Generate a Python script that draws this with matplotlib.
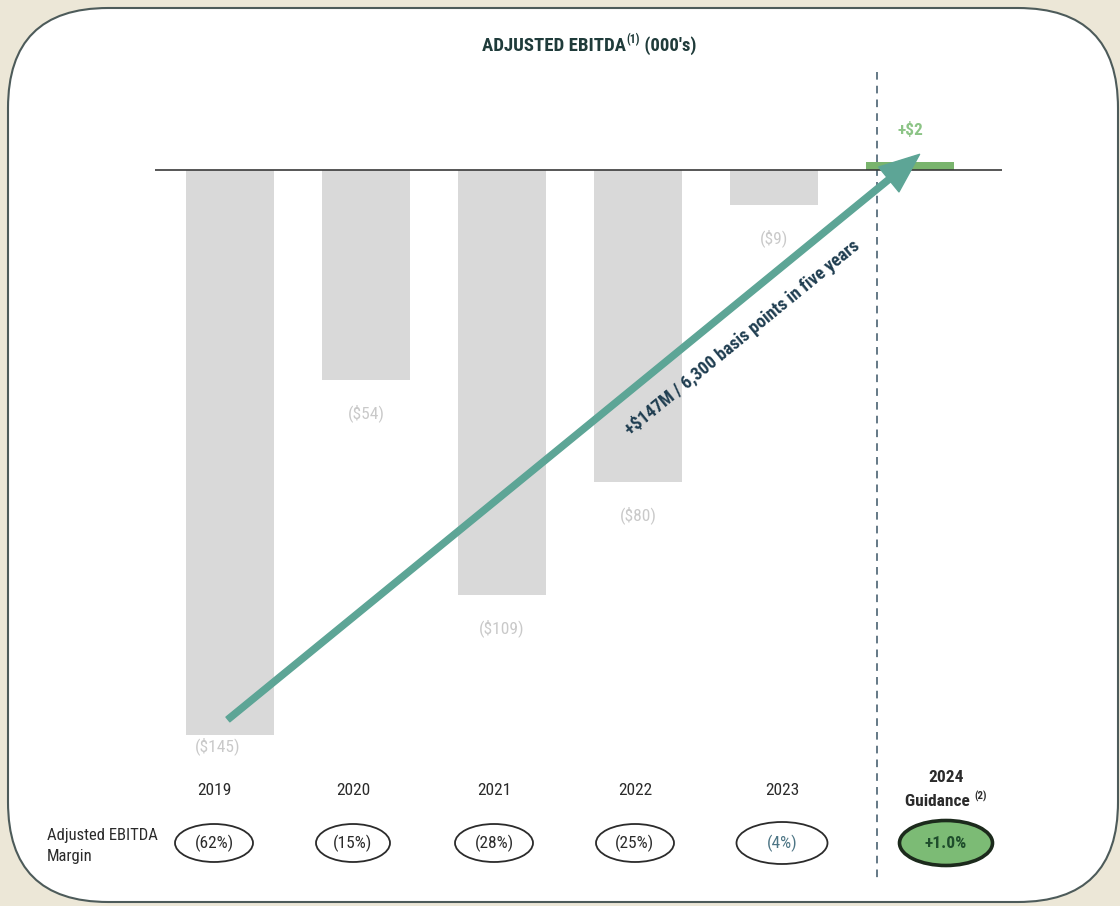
import math
import matplotlib.pyplot as plt
from matplotlib.patches import FancyBboxPatch, Ellipse

years = ['2019', '2020', '2021', '2022', '2023', '2024']
ebitda = [-145, -54, -109, -80, -9, 2]
ebitda_labels = ['($145)', '($54)', '($109)', '($80)', '($9)', '+$2']
margins = ['(62%)', '(15%)', '(28%)', '(25%)', '(4%)', '+1.0%']
margin_title = 'Adjusted EBITDA\nMargin'
trend_text = '+$147M / 6,300 basis points in five years'

plt.rcParams['font.family'] = ['Roboto Condensed', 'DejaVu Sans']

W, H = 1120, 906
fig = plt.figure(figsize=(W / 100, H / 100), dpi=100)
fig.patch.set_facecolor('#ece7d7')

# pixel-space layer for the panel, separators and the margin row
bg = fig.add_axes([0, 0, 1, 1])
bg.set_xlim(0, W)
bg.set_ylim(H, 0)
bg.axis('off')

panel = FancyBboxPatch((8, 8), 1110, 894, boxstyle='round,pad=0,rounding_size=100',
                       facecolor='white', edgecolor='#4d5b5a', lw=1.5)
bg.add_patch(panel)
bg.plot([877, 877], [72, 880], ls=(0, (5, 4)), color='#3b5566', lw=1.1)

renderer = fig.canvas.get_renderer()


def sup_text(ax, xc, y, parts, size, **kw):
    # parts: (text, is_superscript); the run is centred on xc
    items = []
    for s, sup in parts:
        t = ax.text(0, y - (size * 0.55 if sup else 0), s, ha='left', va='baseline',
                    fontsize=size * (0.62 if sup else 1), **kw)
        items.append(t)
    widths = [t.get_window_extent(renderer).width for t in items]
    x = xc - sum(widths) / 2
    for t, w in zip(items, widths):
        t.set_x(x)
        x += w


sup_text(bg, 589, 51, [('ADJUSTED EBITDA', False), ('(1)', True), (" (000's)", False)],
         13.5, fontweight='bold', color='#1f3b3a')

# bars
ax = fig.add_axes([155 / W, 1 - 793.5 / H, 847 / W, (793.5 - 53) / H])
ax.patch.set_alpha(0)
ax.set_xlim(-0.551, 5.676)
ax.set_ylim(-160, 30)
ax.axis('off')

x = list(range(len(years)))
colors = ['#d9d9d9'] * 5 + ['#79b46d']
ax.bar(x, ebitda, width=0.647, color=colors, zorder=2)
ax.axhline(0, color='#3a3a3a', lw=1.2, zorder=3)

label_gap = [11, 33, 33, 33, 33, 32]
label_dx = [-12, 0, 0, 0, 0, 0]
for i, v in enumerate(ebitda):
    sign = -1 if v < 0 else 1
    ax.annotate(ebitda_labels[i], (i, v), xytext=(label_dx[i] * 0.72, sign * label_gap[i] * 0.72),
                textcoords='offset points', ha='center', va='center', fontsize=12.5,
                color='#c9c9c9' if v < 0 else '#8cc486',
                fontweight='bold' if v > 0 else 'normal')

start = (-0.015, ebitda[0] + 4)
end = (x[-1] + 0.07, ebitda[-1] + 2)
ax.annotate('', xy=end, xytext=start,
            arrowprops=dict(arrowstyle='simple,head_length=1.3,head_width=1.05,tail_width=0.2',
                            mutation_scale=22, color='#5da596', shrinkA=0, shrinkB=0), zorder=5)

# caption runs parallel to the arrow, just below it
p0 = ax.transData.transform(start)
p1 = ax.transData.transform(end)
angle = math.degrees(math.atan2(p1[1] - p0[1], p1[0] - p0[0]))
t = 0.716
mid = (start[0] + t * (end[0] - start[0]), start[1] + t * (end[1] - start[1]))
ux, uy = math.cos(math.radians(angle)), math.sin(math.radians(angle))
off = 30 * 0.72
ax.annotate(trend_text, mid, xytext=(uy * off, -ux * off), textcoords='offset points',
            rotation=angle, rotation_mode='anchor', ha='center', va='center',
            fontsize=13, fontweight='bold', color='#1f3d50', zorder=6)

# margin row
row_x = [214, 353, 494, 635, 782, 946]
ell_w = [78, 74, 78, 78, 91, 93]
ell_h = [38, 38, 38, 38, 42, 45]
for i in range(5):
    bg.text(row_x[i], 795, years[i], ha='center', va='baseline', fontsize=12.5, color='#2b2b2b')
bg.text(row_x[5], 782, years[5], ha='center', va='baseline', fontsize=12.5,
        fontweight='bold', color='#2b2b2b')
sup_text(bg, row_x[5], 806, [('Guidance ', False), ('(2)', True)], 12.5,
         fontweight='bold', color='#2b2b2b')

for i, m in enumerate(margins):
    last = i == len(margins) - 1
    bg.add_patch(Ellipse((row_x[i], 843), ell_w[i], ell_h[i],
                         facecolor='#7cbb75' if last else 'white',
                         edgecolor='#1c2a1c' if last else '#2b2b2b', lw=2.6 if last else 1.3))
    color = '#1f4d2c' if last else ('#4d7585' if i == 4 else '#2b2b2b')
    bg.text(row_x[i], 843, m, ha='center', va='center', fontsize=12.5, color=color,
            fontweight='bold' if last else 'normal')

bg.text(47, 846, margin_title, ha='left', va='center', fontsize=12, color='#2b2b2b',
        linespacing=1.45)

fig.savefig('out.png', dpi=100, facecolor=fig.get_facecolor())
